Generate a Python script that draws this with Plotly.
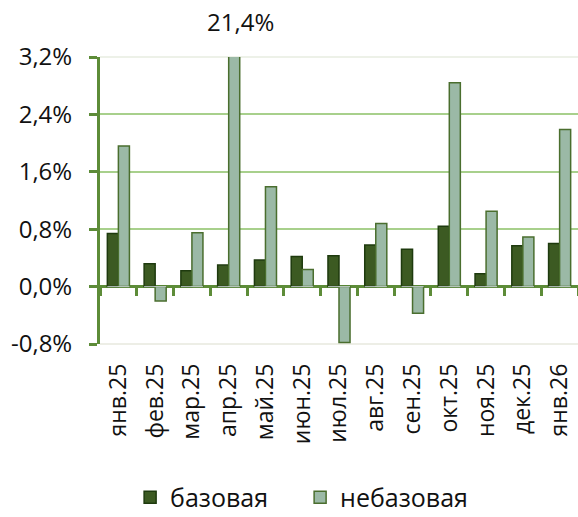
import plotly.graph_objects as go

categories = ["янв.25", "фев.25", "мар.25", "апр.25", "май.25", "июн.25", "июл.25",
              "авг.25", "сен.25", "окт.25", "ноя.25", "дек.25", "янв.26"]
base = [0.74, 0.32, 0.22, 0.30, 0.37, 0.42, 0.43, 0.58, 0.52, 0.84, 0.18, 0.57, 0.60]
nonbase = [1.96, -0.20, 0.75, 21.4, 1.39, 0.24, -0.78, 0.88, -0.37, 2.84, 1.05, 0.69, 2.19]
ytick_vals = [-0.8, 0.0, 0.8, 1.6, 2.4, 3.2]
ytick_text = ["-0,8%", "0,0%", "0,8%", "1,6%", "2,4%", "3,2%"]
outlier_label = "21,4%"

GREEN = "#5d8c38"
FONT = "Open Sans"

fig = go.Figure()
fig.add_trace(go.Bar(x=categories, y=base, name="базовая",
                     marker=dict(color="#3c5a22", line=dict(color="#1e3a0e", width=1.5))))
fig.add_trace(go.Bar(x=categories, y=nonbase, name="небазовая",
                     marker=dict(color="#9bb9a6", line=dict(color="#4a6e2e", width=1.5))))
# helper trace for the zero axis with boundary ticks
fig.add_trace(go.Bar(x=categories, y=[0] * len(categories), xaxis="x2", showlegend=False,
                     hoverinfo="skip", marker=dict(color="rgba(0,0,0,0)")))

fig.update_layout(
    width=578, height=517,
    margin=dict(l=100, r=0, t=57, b=173, autoexpand=False),
    paper_bgcolor="white", plot_bgcolor="white",
    font=dict(family=FONT, size=23, color="#111111"),
    barmode="group", bargap=0.4, bargroupgap=0,
    showlegend=True,
    legend=dict(orientation="h", x=0.063, xanchor="left", y=-0.535, yanchor="middle",
                font=dict(size=25), itemwidth=30, tracegroupgap=0,
                entrywidth=125, entrywidthmode="pixels"),
    xaxis=dict(type="category", categoryorder="array", categoryarray=categories,
               range=[-0.5, 12.5], showline=False, showgrid=False, zeroline=False,
               automargin=False,
               ticks="", tickangle=-90, tickfont=dict(size=23), ticklabelstandoff=14),
    xaxis2=dict(type="category", categoryorder="array", categoryarray=categories,
                range=[-0.5, 12.5], overlaying="x", anchor="free", position=0.2,
                side="bottom", showline=False, showgrid=False, zeroline=False,
                automargin=False,
                ticks="outside", tickson="boundaries", ticklen=8, tickwidth=3,
                tickcolor=GREEN, showticklabels=False),
    yaxis=dict(range=[-0.8, 3.2], tickvals=ytick_vals, ticktext=ytick_text,
               automargin=False,
               showline=True, linecolor=GREEN, linewidth=3,
               ticks="outside", ticklen=8, tickwidth=3, tickcolor=GREEN,
               tickfont=dict(size=24), ticklabelstandoff=12,
               showgrid=False, zeroline=True, zerolinecolor=GREEN, zerolinewidth=3,
               minor=dict(tickvals=[0.8, 1.6, 2.4], showgrid=True, gridcolor="#a8d08c",
                          gridwidth=2, ticks="")),
    shapes=[
        dict(type="line", xref="paper", yref="y domain", x0=0, x1=1, y0=1, y1=1,
             line=dict(color="#edf1e8", width=2), layer="below"),
        dict(type="line", xref="paper", yref="y domain", x0=0, x1=1, y0=0, y1=0,
             line=dict(color="#edeee6", width=2), layer="below"),
    ],
    annotations=[dict(x="апр.25", xref="x", xshift=12, y=1.122, yref="paper",
                      text=outlier_label, showarrow=False, yanchor="middle",
                      font=dict(size=24))],
)

fig.write_html("out.html", config={"displayModeBar": False},
               post_script="document.body.style.margin='0px';")
